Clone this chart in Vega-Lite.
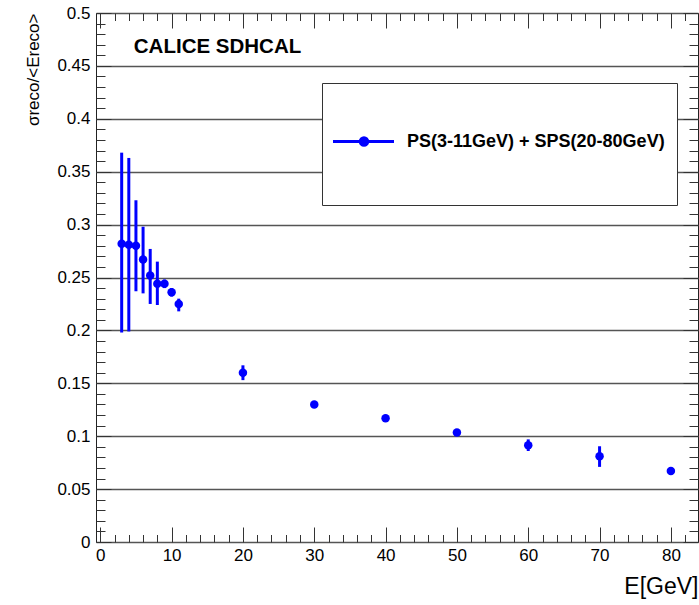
{
  "$schema": "https://vega.github.io/schema/vega-lite/v6.json",
  "autosize": "none",
  "width": 602,
  "height": 529,
  "padding": {"left": 96, "top": 13, "right": 1, "bottom": 63},
  "background": "white",
  "config": {
    "font": "Liberation Sans",
    "view": {"stroke": "#222", "strokeWidth": 1}
  },
  "data": {
    "values": [
      {"E": 3, "sigma": 0.282, "lo": 0.198, "hi": 0.368, "series": "PS(3-11GeV) + SPS(20-80GeV)"},
      {"E": 4, "sigma": 0.281, "lo": 0.199, "hi": 0.363, "series": "PS(3-11GeV) + SPS(20-80GeV)"},
      {"E": 5, "sigma": 0.280, "lo": 0.237, "hi": 0.323, "series": "PS(3-11GeV) + SPS(20-80GeV)"},
      {"E": 6, "sigma": 0.267, "lo": 0.235, "hi": 0.298, "series": "PS(3-11GeV) + SPS(20-80GeV)"},
      {"E": 7, "sigma": 0.252, "lo": 0.225, "hi": 0.277, "series": "PS(3-11GeV) + SPS(20-80GeV)"},
      {"E": 8, "sigma": 0.244, "lo": 0.224, "hi": 0.265, "series": "PS(3-11GeV) + SPS(20-80GeV)"},
      {"E": 9, "sigma": 0.244, "lo": 0.240, "hi": 0.248, "series": "PS(3-11GeV) + SPS(20-80GeV)"},
      {"E": 10, "sigma": 0.236, "lo": 0.232, "hi": 0.240, "series": "PS(3-11GeV) + SPS(20-80GeV)"},
      {"E": 11, "sigma": 0.225, "lo": 0.218, "hi": 0.230, "series": "PS(3-11GeV) + SPS(20-80GeV)"},
      {"E": 20, "sigma": 0.160, "lo": 0.153, "hi": 0.167, "series": "PS(3-11GeV) + SPS(20-80GeV)"},
      {"E": 30, "sigma": 0.130, "lo": 0.128, "hi": 0.132, "series": "PS(3-11GeV) + SPS(20-80GeV)"},
      {"E": 40, "sigma": 0.117, "lo": 0.115, "hi": 0.119, "series": "PS(3-11GeV) + SPS(20-80GeV)"},
      {"E": 50, "sigma": 0.1035, "lo": 0.101, "hi": 0.106, "series": "PS(3-11GeV) + SPS(20-80GeV)"},
      {"E": 60, "sigma": 0.0915, "lo": 0.086, "hi": 0.097, "series": "PS(3-11GeV) + SPS(20-80GeV)"},
      {"E": 70, "sigma": 0.081, "lo": 0.071, "hi": 0.0905, "series": "PS(3-11GeV) + SPS(20-80GeV)"},
      {"E": 80, "sigma": 0.067, "lo": 0.065, "hi": 0.069, "series": "PS(3-11GeV) + SPS(20-80GeV)"}
    ]
  },
  "layer": [
    {
      "mark": {"type": "rule", "color": "#0000ff", "strokeWidth": 3},
      "encoding": {
        "x": {"field": "E", "type": "quantitative", "scale": {"domain": [-0.6, 83.8], "nice": false, "zero": false}, "axis": null},
        "y": {"field": "lo", "type": "quantitative", "scale": {"domain": [0, 0.5], "nice": false}, "axis": null},
        "y2": {"field": "hi"}
      }
    },
    {
      "mark": {"type": "point", "filled": true, "opacity": 1, "size": 72},
      "encoding": {
        "x": {"field": "E", "type": "quantitative", "scale": {"domain": [-0.6, 83.8], "nice": false, "zero": false},
          "axis": {"orient": "bottom", "values": [0, 10, 20, 30, 40, 50, 60, 70, 80], "format": "d", "ticks": false, "domain": false, "grid": false, "labelFlush": false, "labelPadding": 5, "labelFontSize": 17, "labelColor": "#000", "labelFont": "Liberation Sans",
            "title": "E[GeV]", "titleAnchor": "end", "titleFontSize": 23, "titleFontWeight": "normal", "titleColor": "#000", "titleFont": "Liberation Sans", "titlePadding": 12}},
        "y": {"field": "sigma", "type": "quantitative", "scale": {"domain": [0, 0.5], "nice": false},
          "axis": {"orient": "left", "values": [0, 0.05, 0.1, 0.15, 0.2, 0.25, 0.3, 0.35, 0.4, 0.45, 0.5], "format": "~g", "ticks": false, "domain": false, "grid": true, "gridColor": "#555", "gridWidth": 1.3, "labelPadding": 6, "labelFontSize": 17, "labelColor": "#000", "labelFont": "Liberation Sans",
            "title": "σreco/<Ereco>", "titleAnchor": "end", "titleFontSize": 17, "titleFontWeight": "normal", "titleColor": "#000", "titleFont": "Liberation Sans", "titlePadding": 14}},
        "color": {"field": "series", "type": "nominal", "scale": {"range": ["#0000ff"]},
          "legend": {"orient": "none", "legendX": 226, "legendY": 70, "title": null, "padding": 12, "strokeColor": "#333", "fillColor": "white",
            "symbolType": "M-1.056,0L0.3,0M-0.45,0A0.083,0.083,0,1,0,-0.284,0A0.083,0.083,0,1,0,-0.45,0ZM0,-1.0M0,1.0",
            "symbolSize": 8100, "symbolStrokeWidth": 3, "symbolStrokeColor": "#0000ff", "symbolFillColor": "#0000ff",
            "labelOffset": -20, "labelLimit": 400, "labelFont": "Liberation Sans", "labelFontSize": 18, "labelFontWeight": "bold", "labelColor": "#000",
            "encode": {"symbols": {"update": {"stroke": {"value": "#0000ff"}, "strokeWidth": {"value": 3}, "fill": {"value": "#0000ff"}}}}}}
      }
    },
    {
      "data": {"values": [{"label": "CALICE SDHCAL"}]},
      "mark": {"type": "text", "align": "left", "baseline": "alphabetic", "font": "Liberation Sans", "fontSize": 20.5, "fontWeight": "bold", "fill": "#000"},
      "encoding": {
        "x": {"datum": 4.7, "type": "quantitative", "scale": {"domain": [-0.6, 83.8], "nice": false, "zero": false}, "axis": null},
        "y": {"datum": 0.462, "type": "quantitative", "scale": {"domain": [0, 0.5], "nice": false}, "axis": null},
        "text": {"field": "label"}
      }
    },
    {
      "mark": {"type": "point", "opacity": 0},
      "encoding": {
        "x": {"field": "E", "type": "quantitative", "scale": {"domain": [-0.6, 83.8], "nice": false, "zero": false},
          "axis": {"orient": "bottom", "values": [0, 10, 20, 30, 40, 50, 60, 70, 80], "tickSize": -15, "tickColor": "#333", "labels": false, "domain": false, "grid": false, "title": null}},
        "y": {"field": "sigma", "type": "quantitative", "scale": {"domain": [0, 0.5], "nice": false},
          "axis": {"orient": "left", "values": [0, 0.05, 0.1, 0.15, 0.2, 0.25, 0.3, 0.35, 0.4, 0.45, 0.5], "tickSize": -15, "tickColor": "#333", "labels": false, "domain": false, "grid": false, "title": null}}
      }
    },
    {
      "mark": {"type": "point", "opacity": 0},
      "encoding": {
        "x": {"field": "E", "type": "quantitative", "scale": {"domain": [-0.6, 83.8], "nice": false, "zero": false},
          "axis": {"orient": "bottom", "values": [2, 4, 6, 8, 12, 14, 16, 18, 22, 24, 26, 28, 32, 34, 36, 38, 42, 44, 46, 48, 52, 54, 56, 58, 62, 64, 66, 68, 72, 74, 76, 78, 82], "tickSize": -7.5, "tickColor": "#333", "labels": false, "domain": false, "grid": false, "title": null}},
        "y": {"field": "sigma", "type": "quantitative", "scale": {"domain": [0, 0.5], "nice": false},
          "axis": {"orient": "left", "values": [0.01, 0.02, 0.03, 0.04, 0.06, 0.07, 0.08, 0.09, 0.11, 0.12, 0.13, 0.14, 0.16, 0.17, 0.18, 0.19, 0.21, 0.22, 0.23, 0.24, 0.26, 0.27, 0.28, 0.29, 0.31, 0.32, 0.33, 0.34, 0.36, 0.37, 0.38, 0.39, 0.41, 0.42, 0.43, 0.44, 0.46, 0.47, 0.48, 0.49], "tickSize": -9, "tickColor": "#333", "labels": false, "domain": false, "grid": false, "title": null}}
      }
    },
    {
      "mark": {"type": "point", "opacity": 0},
      "encoding": {
        "x": {"field": "E", "type": "quantitative", "scale": {"domain": [-0.6, 83.8], "nice": false, "zero": false},
          "axis": {"orient": "top", "values": [0, 10, 20, 30, 40, 50, 60, 70, 80], "tickSize": -15, "tickColor": "#333", "labels": false, "domain": false, "grid": false, "title": null}},
        "y": {"field": "sigma", "type": "quantitative", "scale": {"domain": [0, 0.5], "nice": false},
          "axis": {"orient": "right", "values": [0, 0.05, 0.1, 0.15, 0.2, 0.25, 0.3, 0.35, 0.4, 0.45, 0.5], "tickSize": -15, "tickColor": "#333", "labels": false, "domain": false, "grid": false, "title": null}}
      }
    },
    {
      "mark": {"type": "point", "opacity": 0},
      "encoding": {
        "x": {"field": "E", "type": "quantitative", "scale": {"domain": [-0.6, 83.8], "nice": false, "zero": false},
          "axis": {"orient": "top", "values": [2, 4, 6, 8, 12, 14, 16, 18, 22, 24, 26, 28, 32, 34, 36, 38, 42, 44, 46, 48, 52, 54, 56, 58, 62, 64, 66, 68, 72, 74, 76, 78, 82], "tickSize": -7.5, "tickColor": "#333", "labels": false, "domain": false, "grid": false, "title": null}},
        "y": {"field": "sigma", "type": "quantitative", "scale": {"domain": [0, 0.5], "nice": false},
          "axis": {"orient": "right", "values": [0.01, 0.02, 0.03, 0.04, 0.06, 0.07, 0.08, 0.09, 0.11, 0.12, 0.13, 0.14, 0.16, 0.17, 0.18, 0.19, 0.21, 0.22, 0.23, 0.24, 0.26, 0.27, 0.28, 0.29, 0.31, 0.32, 0.33, 0.34, 0.36, 0.37, 0.38, 0.39, 0.41, 0.42, 0.43, 0.44, 0.46, 0.47, 0.48, 0.49], "tickSize": -9, "tickColor": "#333", "labels": false, "domain": false, "grid": false, "title": null}}
      }
    }
  ],
  "resolve": {"axis": {"x": "independent", "y": "independent"}}
}
